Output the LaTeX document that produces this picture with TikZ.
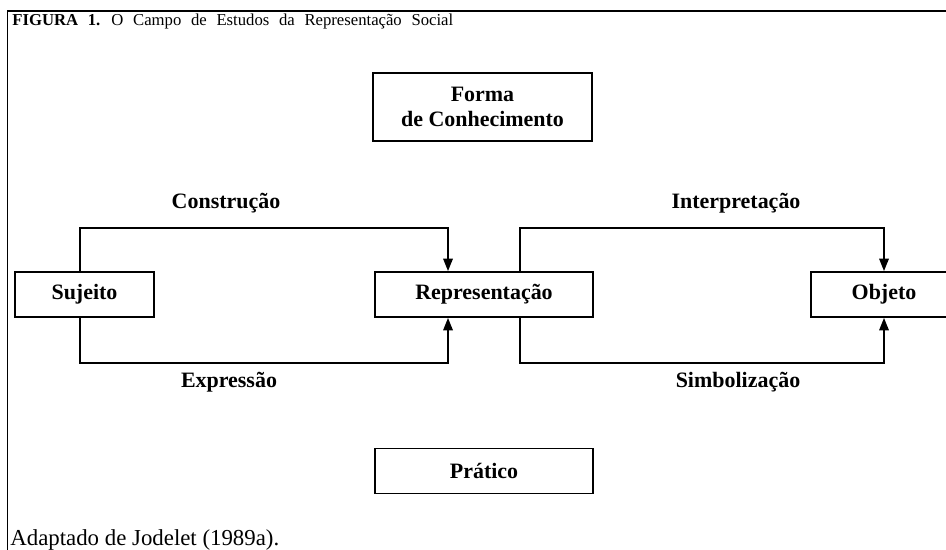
\documentclass[tikz,border=0pt]{standalone}
\usepackage{fontspec}
\setmainfont{Liberation Serif}
\usetikzlibrary{arrows.meta}

\begin{document}
\begin{tikzpicture}[x=0.02cm,y=-0.02cm,%
  box/.style={draw,line width=1pt,minimum height=0.9cm,inner sep=2pt,font=\fontsize{12.5}{14}\selectfont\bfseries},
  flow/.style={line width=1pt,-{Triangle[length=2.5mm,width=1.9mm]}},
  lbl/.style={font=\fontsize{12.5}{14}\selectfont\bfseries}]

\useasboundingbox (0,0) rectangle (946,550);
\clip (0,0) rectangle (946,550);
\draw[line width=0.8pt] (946,11) -- (7.5,11) -- (7.5,550);
\node[anchor=base west,inner sep=0pt,font=\fontsize{9.5}{11}\selectfont] (titulo) at (12,25.5) {\spaceskip=0.58em\relax\textbf{FIGURA 1.} O Campo de Estudos da Representação Social};

\node[box,minimum width=4.38cm,minimum height=1.36cm,align=center] (forma) at (482.5,107) {Forma\\de Conhecimento};
\node[box,minimum width=2.78cm] (sujeito) at (84.5,294.5) {Sujeito};
\node[box,minimum width=4.36cm] (repr) at (484,294.5) {Representação};
\node[box,minimum width=2.92cm] (objeto) at (884,294.5) {Objeto};
\node[box,minimum width=4.36cm] (pratico) at (484,471) {Prático};

\draw[flow] ([xshift=-0.09cm]sujeito.north) -- ++(0,-43) -| ([xshift=-0.72cm]repr.north);
\draw[flow] ([xshift=-0.09cm]sujeito.south) -- ++(0,45) -| ([xshift=-0.72cm]repr.south);
\draw[flow] ([xshift=0.72cm]repr.north) -- ++(0,-43) -| (objeto.north);
\draw[flow] ([xshift=0.72cm]repr.south) -- ++(0,45) -| (objeto.south);

\node[lbl] (constr) at (226,203) {Construção};
\node[lbl] (interp) at (736,203) {Interpretação};
\node[lbl] (expr) at (229,382) {Expressão};
\node[lbl] (simb) at (738,382) {Simbolização};

\node[anchor=base west,inner sep=0pt,font=\fontsize{13}{15}\selectfont] (fonte) at (10,545) {Adaptado de Jodelet (1989a).};
\end{tikzpicture}
\end{document}
